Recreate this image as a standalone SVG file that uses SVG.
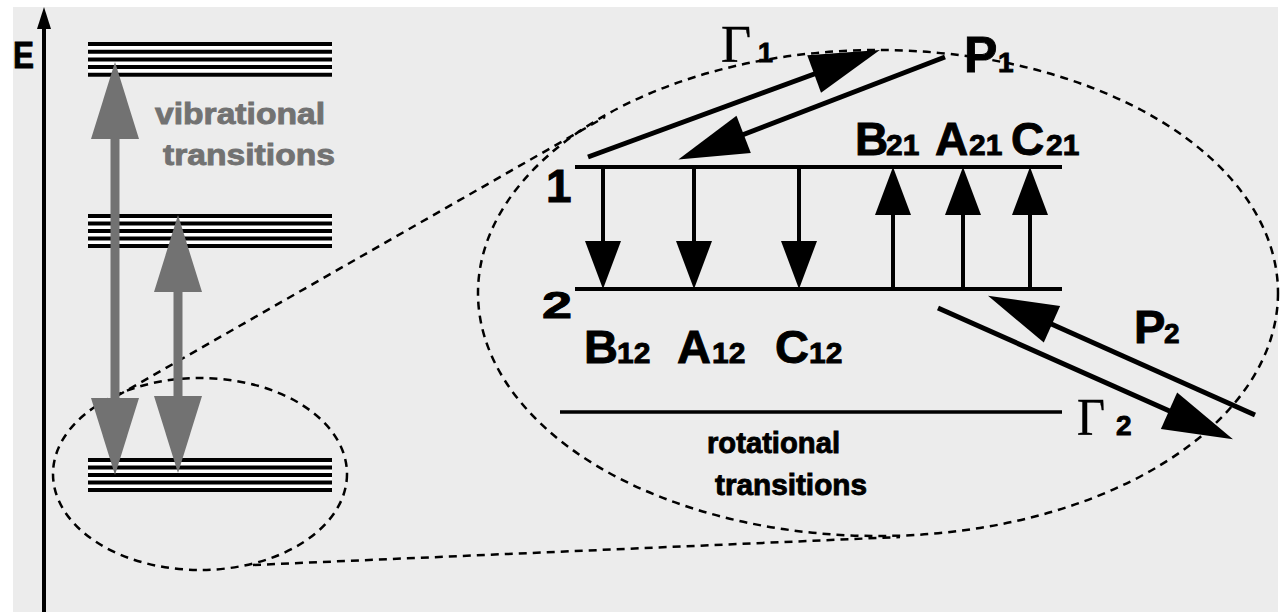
<svg xmlns="http://www.w3.org/2000/svg" width="1283" height="612" viewBox="0 0 1283 612">
<style>
text{font-family:"Liberation Sans",Arial,sans-serif;font-weight:bold;fill:#000;stroke:#000;stroke-width:0.9}
.serif{font-family:"Liberation Serif","Times New Roman",serif;font-weight:normal;stroke-width:0.4}
.gray{fill:#727272;stroke:#727272}
.lvl{stroke:#000;stroke-width:4}
.dash{fill:none;stroke:#000;stroke-width:2.5;stroke-dasharray:8 6}
.rot{stroke:#000;stroke-width:4;marker-end:url(#rotHead)}
.diag{stroke:#000;stroke-width:5;marker-end:url(#diagHead)}
.vib{stroke:#727272;stroke-width:9;marker-start:url(#grayHead);marker-end:url(#grayHead)}
</style>
<defs>
<marker id="rotHead" markerUnits="userSpaceOnUse" markerWidth="48" markerHeight="36" refX="24" refY="18" orient="auto" overflow="visible">
<path d="M0,0 L48,18 L0,36 Z" fill="#000"/>
</marker>
<marker id="diagHead" markerUnits="userSpaceOnUse" markerWidth="70" markerHeight="40" refX="35" refY="20" orient="auto" overflow="visible">
<path d="M0,0 L70,20 L0,40 Z" fill="#000"/>
</marker>
<marker id="grayHead" markerUnits="userSpaceOnUse" markerWidth="77" markerHeight="48" refX="38" refY="24" orient="auto-start-reverse" overflow="visible">
<path d="M0,0 L77,24 L0,48 Z" fill="#727272"/>
</marker>
</defs>
<rect x="0" y="0" width="1283" height="612" fill="#ffffff"/>
<rect x="13" y="7" width="1265" height="605" fill="#ececec"/>

<g id="energy-axis">
<line x1="44" y1="22" x2="44" y2="612" stroke="#000" stroke-width="4"/>
<polygon points="44,7 37,29 51,29" fill="#000"/>
<text x="13" y="68" font-size="37" textLength="21" lengthAdjust="spacingAndGlyphs">E</text>
</g>

<g id="vib-level-top">
<rect x="88" y="42" width="244" height="35" fill="#fff"/>
<line class="lvl" x1="88" y1="44" x2="332" y2="44"/>
<line class="lvl" x1="88" y1="51.7" x2="332" y2="51.7"/>
<line class="lvl" x1="88" y1="59.4" x2="332" y2="59.4"/>
<line class="lvl" x1="88" y1="67.1" x2="332" y2="67.1"/>
<line class="lvl" x1="88" y1="74.8" x2="332" y2="74.8"/>
</g>
<g id="vib-level-mid">
<rect x="88" y="214" width="244" height="34" fill="#fff"/>
<line class="lvl" x1="88" y1="216" x2="332" y2="216"/>
<line class="lvl" x1="88" y1="223.5" x2="332" y2="223.5"/>
<line class="lvl" x1="88" y1="231" x2="332" y2="231"/>
<line class="lvl" x1="88" y1="238.5" x2="332" y2="238.5"/>
<line class="lvl" x1="88" y1="246" x2="332" y2="246"/>
</g>
<g id="vib-level-bottom">
<rect x="88" y="458" width="244" height="34" fill="#fff"/>
<line class="lvl" x1="88" y1="460" x2="332" y2="460"/>
<line class="lvl" x1="88" y1="467.5" x2="332" y2="467.5"/>
<line class="lvl" x1="88" y1="475" x2="332" y2="475"/>
<line class="lvl" x1="88" y1="482.5" x2="332" y2="482.5"/>
<line class="lvl" x1="88" y1="490" x2="332" y2="490"/>
</g>

<g id="vib-label">
<text class="gray" x="155" y="124" font-size="30" textLength="170" lengthAdjust="spacingAndGlyphs">vibrational</text>
<text class="gray" x="163" y="165" font-size="30" textLength="172" lengthAdjust="spacingAndGlyphs">transitions</text>
</g>

<g id="zoom-small">
<ellipse class="dash" cx="200" cy="474" rx="147" ry="96"/>
</g>
<g id="zoom-big">
<ellipse class="dash" cx="878" cy="293" rx="400" ry="243"/>
</g>

<g id="rot-level-1">
<line class="lvl" x1="575" y1="167" x2="1062" y2="167"/>
<text x="546" y="202" font-size="46">1</text>
</g>
<g id="rot-level-2">
<line class="lvl" x1="575" y1="289" x2="1062" y2="289"/>
<text x="542" y="318" font-size="37" textLength="30" lengthAdjust="spacingAndGlyphs">2</text>
</g>
<g id="rot-level-3">
<line x1="560" y1="412" x2="1062" y2="412" stroke="#000" stroke-width="3.5"/>
<text x="707" y="453" font-size="30" textLength="133" lengthAdjust="spacingAndGlyphs">rotational</text>
<text x="715" y="495" font-size="30" textLength="152" lengthAdjust="spacingAndGlyphs">transitions</text>
</g>

<g id="rate-labels">
<text x="584" y="363" font-size="47">B<tspan x="617" font-size="30">12</tspan></text>
<text x="677" y="363" font-size="47">A<tspan x="712" font-size="30">12</tspan></text>
<text x="775" y="363" font-size="47">C<tspan x="809" font-size="30">12</tspan></text>
<text x="855" y="155" font-size="46">B<tspan x="886" font-size="30">21</tspan></text>
<text x="935" y="155" font-size="46">A<tspan x="969" font-size="30">21</tspan></text>
<text x="1011" y="155" font-size="46">C<tspan x="1046" font-size="30">21</tspan></text>
<text class="serif" x="721" y="62" font-size="52">Γ</text>
<text x="758" y="62" font-size="27">1</text>
<text x="964" y="72" font-size="50">P</text>
<text x="998" y="72" font-size="28">1</text>
<text x="1134" y="343" font-size="47">P</text>
<text x="1164" y="343" font-size="28">2</text>
<text class="serif" x="1077" y="435" font-size="52" textLength="28" lengthAdjust="spacingAndGlyphs">Γ</text>
<text x="1116" y="435" font-size="28">2</text>
</g>

<g id="connectors">
<line class="dash" x1="117" y1="396" x2="605" y2="117"/>
<line class="dash" x1="253" y1="565" x2="900" y2="537"/>
<line class="vib" x1="115" y1="101" x2="115" y2="436"/>
<line class="vib" x1="178" y1="254" x2="178" y2="434"/>
<line class="rot" x1="603" y1="167" x2="603" y2="265"/>
<line class="rot" x1="694" y1="167" x2="694" y2="265"/>
<line class="rot" x1="799" y1="167" x2="799" y2="265"/>
<line class="rot" x1="893" y1="289" x2="893" y2="191"/>
<line class="rot" x1="963" y1="289" x2="963" y2="191"/>
<line class="rot" x1="1030" y1="289" x2="1030" y2="191"/>
<line class="diag" x1="588" y1="157" x2="847" y2="62"/>
<line class="diag" x1="945" y1="57" x2="711" y2="147"/>
<line class="diag" x1="1255" y1="415" x2="1020" y2="310"/>
<line class="diag" x1="938" y1="308" x2="1201" y2="425"/>
</g>
</svg>
